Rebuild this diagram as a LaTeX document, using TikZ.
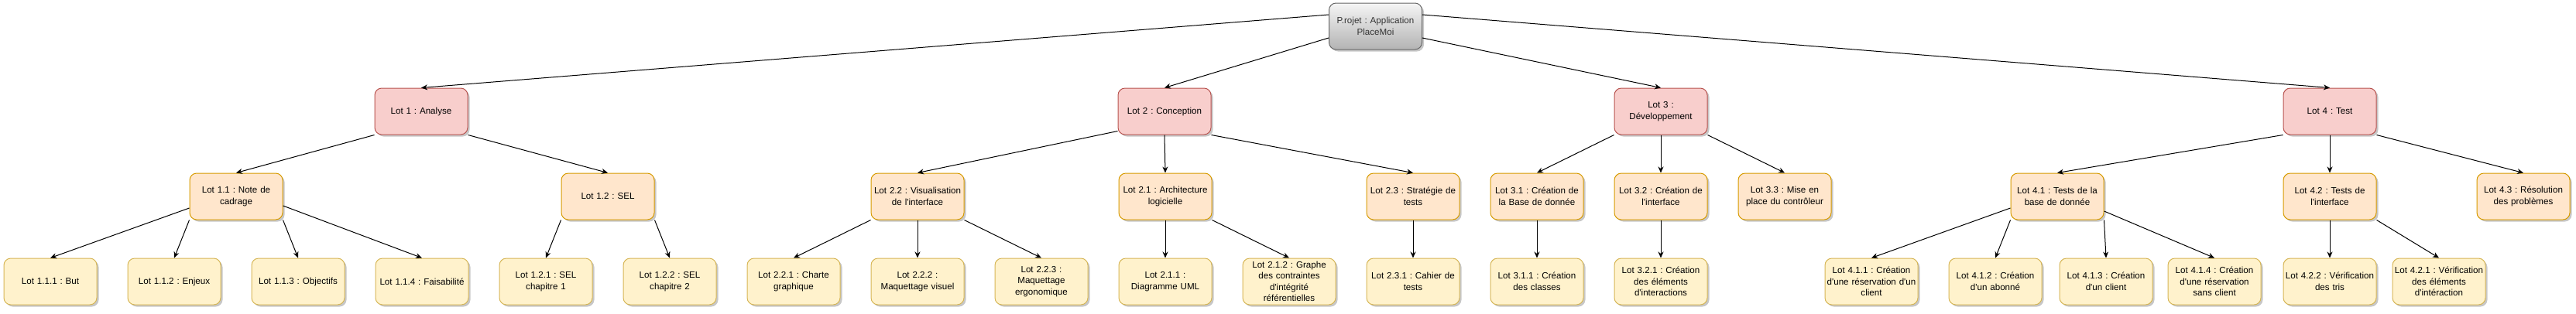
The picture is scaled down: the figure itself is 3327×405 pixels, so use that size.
\documentclass[tikz,border=0pt]{standalone}
\usepackage{fontspec}
\newfontfamily\lab{Liberation Sans}
\usetikzlibrary{shadows,arrows.meta}
\definecolor{redf}{HTML}{F8CECC}
\definecolor{redd}{HTML}{B85450}
\definecolor{orf}{HTML}{FFE6CC}
\definecolor{ord}{HTML}{D79B00}
\definecolor{yef}{HTML}{FFF2CC}
\definecolor{yed}{HTML}{D6B656}
\definecolor{grt}{HTML}{F5F5F5}
\definecolor{grb}{HTML}{B3B3B3}
\definecolor{grd}{HTML}{666666}
\definecolor{txg}{HTML}{333333}
\frenchspacing
\begin{document}
\begin{tikzpicture}[x=1pt,y=-1pt,
  box/.style={rectangle, rounded corners=9pt, minimum width=120pt, minimum height=60pt,
    text width=118pt, inner sep=1pt, align=center, line width=1pt,
    font=\lab\frenchspacing\fontsize{11.6}{14.5}\selectfont,
    drop shadow={shadow xshift=2.5pt, shadow yshift=-2.5pt, opacity=0.22, fill=black}},
  rootbox/.style={box, draw=grd, top color=grt, bottom color=grb, text=txg},
  lvone/.style={box, fill=redf, draw=redd},
  lvtwo/.style={box, fill=orf, draw=ord},
  lvthree/.style={box, fill=yef, draw=yed},
  conn/.style={draw=black, line width=1pt, -{Stealth[length=8pt,width=7pt,inset=2.5pt]}}]
\useasboundingbox (0,0) rectangle (3327,405);
% root
\node[rootbox] (root) at (1776.5,34) {P.rojet : Application\\PlaceMoi};
% level 1
\node[lvone] (lot1) at (544,144) {Lot 1 : Analyse};
\node[lvone] (lot2) at (1504,144) {Lot 2 : Conception};
\node[lvone] (lot3) at (2145,144) {Lot 3 :\\Développement};
\node[lvone] (lot4) at (3009,144) {Lot 4 : Test};
% level 2
\node[lvtwo] (l11) at (305,254) {Lot 1.1 : Note de\\cadrage};
\node[lvtwo] (l12) at (785,254) {Lot 1.2 : SEL};
\node[lvtwo] (l22) at (1185,254) {Lot 2.2 : Visualisation\\de l'interface};
\node[lvtwo] (l21) at (1505,254) {Lot 2.1 : Architecture\\logicielle};
\node[lvtwo] (l23) at (1825,254) {Lot 2.3 : Stratégie de\\tests};
\node[lvtwo] (l31) at (1985,254) {Lot 3.1 : Création de\\la Base de donnée};
\node[lvtwo] (l32) at (2145,254) {Lot 3.2 : Création de\\l'interface};
\node[lvtwo] (l33) at (2305,254) {Lot 3.3 : Mise en\\place du contrôleur};
\node[lvtwo] (l41) at (2657,254) {Lot 4.1 : Tests de la\\base de donnée};
\node[lvtwo] (l42) at (3009,254) {Lot 4.2 : Tests de\\l'interface};
\node[lvtwo] (l43) at (3259,254) {Lot 4.3 : Résolution\\des problèmes};
% level 3
\node[lvthree] (l111) at (65,364) {Lot 1.1.1 : But};
\node[lvthree] (l112) at (225,364) {Lot 1.1.2 : Enjeux};
\node[lvthree] (l113) at (385,364) {Lot 1.1.3 : Objectifs};
\node[lvthree] (l114) at (545,364) {Lot 1.1.4 : Faisabilité};
\node[lvthree] (l121) at (705,364) {Lot 1.2.1 : SEL\\chapitre 1};
\node[lvthree] (l122) at (865,364) {Lot 1.2.2 : SEL\\chapitre 2};
\node[lvthree] (l221) at (1025,364) {Lot 2.2.1 : Charte\\graphique};
\node[lvthree] (l222) at (1185,364) {Lot 2.2.2 :\\Maquettage visuel};
\node[lvthree] (l223) at (1345,364) {Lot 2.2.3 :\\Maquettage\\ergonomique};
\node[lvthree] (l211) at (1505,364) {Lot 2.1.1 :\\Diagramme UML};
\node[lvthree] (l212) at (1665,364) {Lot 2.1.2 : Graphe\\des contraintes\\d'intégrité\\référentielles};
\node[lvthree] (l231) at (1825,364) {Lot 2.3.1 : Cahier de\\tests};
\node[lvthree] (l311) at (1985,364) {Lot 3.1.1 : Création\\des classes};
\node[lvthree] (l321) at (2145,364) {Lot 3.2.1 : Création\\des éléments\\d'interactions};
\node[lvthree] (l411) at (2417,364) {Lot 4.1.1 : Création\\d'une réservation d'un\\client};
\node[lvthree] (l412) at (2577,364) {Lot 4.1.2 : Création\\d'un abonné};
\node[lvthree] (l413) at (2720,364) {Lot 4.1.3 : Création\\d'un client};
\node[lvthree] (l414) at (2860,364) {Lot 4.1.4 : Création\\d'une réservation\\sans client};
\node[lvthree] (l422) at (3009,364) {Lot 4.2.2 : Vérification\\des tris};
\node[lvthree] (l421) at (3150,364) {Lot 4.2.1 : Vérification\\des éléments\\d'intéraction};
% root edges
\draw[conn] ([yshift=15pt]root.west) -- (lot1.north);
\draw[conn] ([yshift=-15pt]root.west) -- (lot2.north);
\draw[conn] ([yshift=-15pt]root.east) -- (lot3.north);
\draw[conn] ([yshift=15pt]root.east) -- (lot4.north);
% level 1 -> 2
\draw[conn] (lot1.south west) -- (l11.north);
\draw[conn] (lot1.south east) -- (l12.north);
\draw[conn] ([yshift=5pt]lot2.south west) -- (l22.north);
\draw[conn] (lot2.south) -- (l21.north);
\draw[conn] (lot2.south east) -- (l23.north);
\draw[conn] (lot3.south west) -- (l31.north);
\draw[conn] (lot3.south) -- (l32.north);
\draw[conn] (lot3.south east) -- (l33.north);
\draw[conn] (lot4.south west) -- (l41.north);
\draw[conn] (lot4.south) -- (l42.north);
\draw[conn] (lot4.south east) -- (l43.north);
% level 2 -> 3
\draw[conn] ([yshift=-15pt]l11.west) -- (l111.north);
\draw[conn] (l11.south west) -- (l112.north);
\draw[conn] (l11.south east) -- (l113.north);
\draw[conn] ([yshift=-12pt]l11.east) -- (l114.north);
\draw[conn] (l12.south west) -- (l121.north);
\draw[conn] (l12.south east) -- (l122.north);
\draw[conn] (l22.south west) -- (l221.north);
\draw[conn] (l22.south) -- (l222.north);
\draw[conn] (l22.south east) -- (l223.north);
\draw[conn] (l21.south) -- (l211.north);
\draw[conn] (l21.south east) -- (l212.north);
\draw[conn] (l23.south) -- (l231.north);
\draw[conn] (l31.south) -- (l311.north);
\draw[conn] (l32.south) -- (l321.north);
\draw[conn] ([yshift=-15pt]l41.west) -- (l411.north);
\draw[conn] (l41.south west) -- (l412.north);
\draw[conn] (l41.south east) -- (l413.north);
\draw[conn] ([yshift=-19pt]l41.east) -- (l414.north);
\draw[conn] (l42.south) -- (l422.north);
\draw[conn] (l42.south east) -- (l421.north);
\end{tikzpicture}
\end{document}
